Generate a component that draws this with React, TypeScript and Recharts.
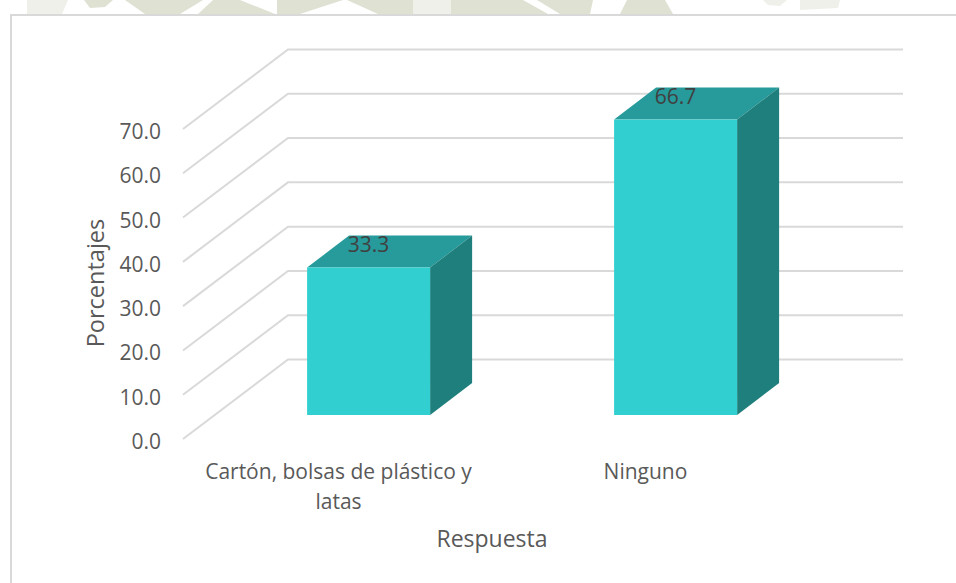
import React from "react";
import { BarChart, Bar, XAxis, YAxis, CartesianGrid, LabelList, Label } from "recharts";

const categories = ["Cartón, bolsas de plástico y latas", "Ninguno"];
const categoryLines = [["Cartón, bolsas de plástico y", "latas"], ["Ninguno"]];
const values = [33.3, 66.7];
const yTicks = [0, 10, 20, 30, 40, 50, 60, 70];

const chartData = categories.map((name, i) => ({ name, value: values[i] }));

const FONT = "'Open Sans', sans-serif";

// the floor sits part way into the depth of the chart
const BAR_DX = 30;
const BAR_DY = -24;
const DEPTH_X = 42;
const DEPTH_Y = -32;

// scrap of the page watermark showing above the chart box
const olive = [
  "84,0 113,0 105,7 90,8",
  "125,0 203,0 180,14 145,14",
  "213,0 240,0 275,14 198,14",
  "277,0 343,0 300,14 277,14",
  "347,0 413,0 413,14 378,14",
  "451,0 523,0 548,14 451,14",
  "537,0 593,0 590,14 560,14",
  "627,0 665,0 673,14 620,14",
];
const pale = ["27,0 68,0 62,14 27,14", "413,0 451,0 451,14 413,14", "763,0 787,0 780,6 768,5", "800,0 840,0 838,8 800,10"];

const Bar3D = (props: any) => {
  const x = props.x + BAR_DX;
  const y = props.y + BAR_DY;
  const { width, height } = props;
  const r = x + width;
  const b = y + height;
  return (
    <g>
      <polygon points={`${x},${y} ${x + DEPTH_X},${y + DEPTH_Y} ${r + DEPTH_X},${y + DEPTH_Y} ${r},${y}`} fill="#279b9b" />
      <polygon points={`${r},${y} ${r + DEPTH_X},${y + DEPTH_Y} ${r + DEPTH_X},${b + DEPTH_Y} ${r},${b}`} fill="#1f7f7c" />
      <rect x={x} y={y} width={width} height={height} fill="#31cfcf" />
    </g>
  );
};

// grid line runs up the side wall, then along the back wall
const gridLine = (p: any) => (
  <polyline
    key={p.key ?? p.y1}
    points={`${p.x1 - 2},${p.y1} ${p.x1 + 103},${p.y1 - 79.5} ${p.x2 + 104},${p.y1 - 79.5}`}
    fill="none"
    stroke="#d9d9d9"
    strokeWidth={2}
  />
);

const CategoryTick = (p: any) => (
  <text x={p.x} y={p.y} textAnchor="middle" fill="#595959" style={{ fontSize: 21, fontFamily: FONT }}>
    {categoryLines[p.index].map((line, i) => (
      <tspan key={line} x={p.x} y={p.y + 24 + i * 30} dominantBaseline="central">
        {line}
      </tspan>
    ))}
  </text>
);

const ValueTick = (p: any) => (
  <text x={p.x} y={p.y + 2} textAnchor="end" dominantBaseline="central" fill="#595959" style={{ fontSize: 21, fontFamily: FONT }}>
    {Number(p.payload.value).toFixed(1)}
  </text>
);

const valueLabel = (p: any) => (
  <text
    x={p.x + BAR_DX + p.width / 2}
    y={p.y + BAR_DY - 24}
    textAnchor="middle"
    dominantBaseline="central"
    fill="#404040"
    style={{ fontSize: 21, fontFamily: FONT }}
  >
    {Number(p.value).toFixed(1)}
  </text>
);

export default function App() {
  return (
    <div style={{ position: "absolute", left: 0, top: 0, width: 956, height: 583, overflow: "hidden", background: "#fff" }}>
      <svg width={956} height={14} style={{ position: "absolute", left: 0, top: 0 }}>
        {olive.map((pts) => (
          <polygon key={pts} points={pts} fill="#dfe1d3" />
        ))}
        {pale.map((pts) => (
          <polygon key={pts} points={pts} fill="#f0f0ea" />
        ))}
      </svg>
      <div style={{ position: "absolute", left: 10, top: 14, width: 960, height: 580, border: "2px solid #d9d9d9", boxSizing: "border-box" }} />
      <div style={{ position: "absolute", left: 0, top: 0 }}>
        <BarChart
          width={956}
          height={583}
          data={chartData}
          barCategoryGap="30%"
          margin={{ top: 129, right: 157, bottom: 44, left: 125 }}
        >
          <CartesianGrid vertical={false} horizontal={gridLine} />
          <XAxis
            dataKey="name"
            axisLine={false}
            tickLine={false}
            interval={0}
            height={100}
            tick={CategoryTick}
          >
            <Label
              value="Respuesta"
              position="insideBottom"
              offset={0}
              dy={8}
              fill="#595959"
              style={{ fontSize: 23, fontFamily: FONT }}
            />
          </XAxis>
          <YAxis
            width={60}
            domain={[0, 70]}
            ticks={yTicks}
            axisLine={false}
            tickLine={false}
            tickSize={0}
            tickMargin={24}
            tick={ValueTick}
          >
            <Label
              value="Porcentajes"
              angle={-90}
              position="center"
              dx={-59}
              dy={-1}
              fill="#595959"
              style={{ fontSize: 23.5, fontFamily: FONT }}
            />
          </YAxis>
          <Bar dataKey="value" isAnimationActive={false} shape={<Bar3D />}>
            <LabelList dataKey="value" content={valueLabel} />
          </Bar>
        </BarChart>
      </div>
    </div>
  );
}
